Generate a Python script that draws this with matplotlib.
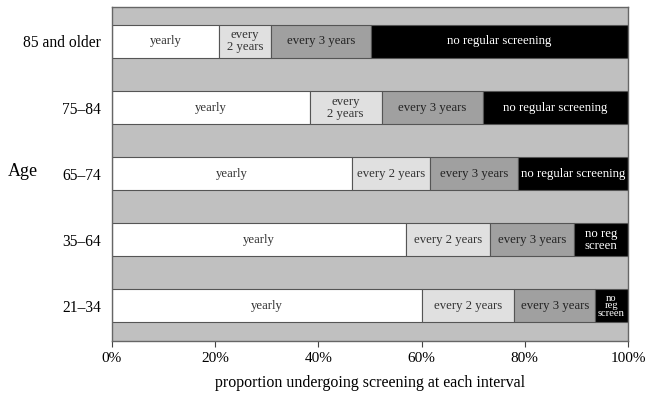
import matplotlib
matplotlib.use("Agg")
import matplotlib.pyplot as plt
import numpy as np

plt.rcParams['font.family'] = ['Liberation Serif', 'DejaVu Serif']

ages = ["21\u201334", "35\u201364", "65\u201374", "75\u201384", "85 and older"]
yearly = [60.0, 57.0, 46.6, 38.3, 20.7]
every2 = [18.0, 16.3, 15.1, 14.0, 10.1]
every3 = [15.6, 16.2, 17.0, 19.6, 19.4]
noreg = [6.4, 10.5, 21.3, 28.1, 49.8]

series = [yearly, every2, every3, noreg]
colors = ["#ffffff", "#e0e0e0", "#a0a0a0", "#000000"]
text_colors = ["#333333", "#333333", "#222222", "#ffffff"]
labels = [
    ["yearly", "every 2 years", "every 3 years", "no\nreg\nscreen"],
    ["yearly", "every 2 years", "every 3 years", "no reg\nscreen"],
    ["yearly", "every 2 years", "every 3 years", "no regular screening"],
    ["yearly", "every\n2 years", "every 3 years", "no regular screening"],
    ["yearly", "every\n2 years", "every 3 years", "no regular screening"],
]

fig = plt.figure(figsize=(6.45, 4.01), dpi=100)
ax = fig.add_axes([0.1736, 0.1496, 0.8, 0.833])
ax.set_facecolor("#c0c0c0")

y = np.arange(len(ages))
left = np.zeros(len(ages))
for si, vals in enumerate(series):
    vals = np.array(vals)
    ax.barh(y, vals, left=left, height=0.5, color=colors[si],
            edgecolor="#555555", linewidth=0.8, zorder=2)
    for i in range(len(ages)):
        lab = labels[i][si]
        fs = 9.2
        ls = 1.0
        if lab.count("\n") == 2:
            fs = 7.6
            ls = 0.8
        ax.text(left[i] + vals[i] / 2, y[i], lab, ha="center", va="center",
                fontsize=fs, color=text_colors[si], linespacing=ls, zorder=3)
    left = left + vals

ax.set_xlim(0, 100)
ax.set_ylim(-0.53, 4.52)
ax.set_yticks(y)
ax.set_yticklabels(ages, fontsize=11.2)
ax.tick_params(axis="y", length=0, pad=8)
ax.set_xticks([0, 20, 40, 60, 80, 100])
ax.set_xticklabels(["0%", "20%", "40%", "60%", "80%", "100%"], fontsize=11)
ax.tick_params(axis="x", length=4, direction="out", color="#444444", pad=4)
for s in ax.spines.values():
    s.set_color("#666666")
    s.set_linewidth(1.0)

ax.set_xlabel("proportion undergoing screening at each interval", fontsize=11.5, labelpad=7)
fig.text(8 / 645, 1 - 172 / 401, "Age", fontsize=13, ha="left", va="center")

fig.savefig("out.png", dpi=100)
